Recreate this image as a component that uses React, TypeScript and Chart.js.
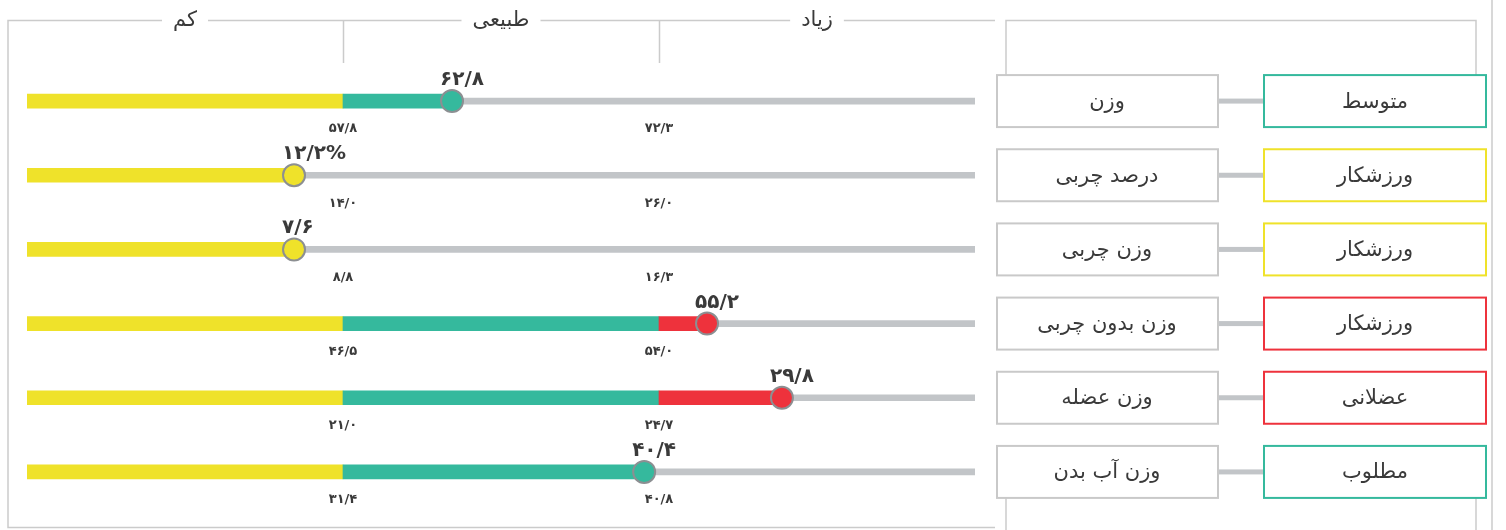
import React, { useEffect, useRef } from "react";
import { Chart, registerables } from "chart.js";

Chart.register(...registerables);

// ---------- data ----------
const rowLabels = ["وزن", "درصد چربی", "وزن چربی", "وزن بدون چربی", "وزن عضله", "وزن آب بدن"];
const statusLabels = ["متوسط", "ورزشکار", "ورزشکار", "ورزشکار", "عضلانی", "مطلوب"];
const valueLabels = ["۶۲/۸", "۱۲/۲%", "۷/۶", "۵۵/۲", "۲۹/۸", "۴۰/۴"];
const lowLabels = ["۵۷/۸", "۱۴/۰", "۸/۸", "۴۶/۵", "۲۱/۰", "۳۱/۴"];
const highLabels = ["۷۲/۳", "۲۶/۰", "۱۶/۳", "۵۴/۰", "۲۴/۷", "۴۰/۸"];
// marker position on a 0..3 zone scale (0-1 low, 1-2 normal, 2-3 high)
const markerPos = [1.345, 0.845, 0.845, 2.152, 2.389, 1.953];
const zoneLabels = ["کم", "طبیعی", "زیاد"];

const YELLOW = "#efe22a";
const TEAL = "#35b99d";
const RED = "#ee323c";
const GRAY = "#c2c5c8";
const LINE = "#cbcbcb";
const TEXT = "#3a3a3a";
const FONT = '"DejaVu Sans", "Noto Sans", sans-serif';

const zoneColor = (p: number) => (p < 1 ? YELLOW : p <= 2 ? TEAL : RED);

const decorPlugin = {
  id: "decor",
  beforeDatasetsDraw(chart: any) {
    const ctx = chart.ctx as CanvasRenderingContext2D;
    const xs = chart.scales.x;
    const ys = chart.scales.y;
    const H = chart.height;
    const L = xs.getPixelForValue(0);
    const R = xs.getPixelForValue(3);
    const x1 = xs.getPixelForValue(1);
    const x2 = xs.getPixelForValue(2);
    const topY = 20.5;
    const botY = H - 2.5;
    ctx.save();
    // left frame
    ctx.strokeStyle = LINE;
    ctx.lineWidth = 1.5;
    ctx.beginPath();
    ctx.moveTo(R + 20, topY);
    ctx.lineTo(L - 19, topY);
    ctx.lineTo(L - 19, botY);
    ctx.lineTo(R + 20, botY);
    ctx.stroke();
    // zone ticks
    ctx.beginPath();
    [x1, x2].forEach((x) => {
      ctx.moveTo(Math.round(x) + 0.5, topY);
      ctx.lineTo(Math.round(x) + 0.5, 63);
    });
    ctx.stroke();
    // zone header labels
    ctx.font = `21px ${FONT}`;
    ctx.textAlign = "center";
    ctx.textBaseline = "middle";
    const centers = [(L + x1) / 2, (x1 + x2) / 2, (x2 + R) / 2];
    zoneLabels.forEach((t, i) => {
      const w = ctx.measureText(t).width;
      ctx.fillStyle = "#ffffff";
      ctx.fillRect(centers[i] - w / 2 - 11, topY - 8, w + 22, 16);
      ctx.fillStyle = TEXT;
      ctx.fillText(t, centers[i], topY);
    });

    // right section
    const y0 = ys.getPixelForValue(0);
    const y5 = ys.getPixelForValue(rowLabels.length - 1);
    const bh = 52;
    ctx.strokeStyle = LINE;
    ctx.lineWidth = 1.5;
    ctx.beginPath();
    ctx.moveTo(R + 31, y0 - bh / 2);
    ctx.lineTo(R + 31, topY);
    ctx.lineTo(R + 501, topY);
    ctx.lineTo(R + 501, y0 - bh / 2);
    ctx.moveTo(R + 31, y5 + bh / 2);
    ctx.lineTo(R + 31, H);
    ctx.moveTo(R + 501, y5 + bh / 2);
    ctx.lineTo(R + 501, H);
    ctx.moveTo(R + 517, 0);
    ctx.lineTo(R + 517, H);
    ctx.stroke();

    rowLabels.forEach((lab, i) => {
      const y = ys.getPixelForValue(i);
      ctx.fillStyle = GRAY;
      ctx.fillRect(R + 243, y - 2.5, 46, 5);
      ctx.lineWidth = 2;
      ctx.strokeStyle = "#c9c9c9";
      ctx.fillStyle = "#ffffff";
      ctx.fillRect(R + 22, y - bh / 2, 221, bh);
      ctx.strokeRect(R + 22, y - bh / 2, 221, bh);
      ctx.strokeStyle = zoneColor(markerPos[i]);
      ctx.fillRect(R + 289, y - bh / 2, 222, bh);
      ctx.strokeRect(R + 289, y - bh / 2, 222, bh);
      ctx.fillStyle = TEXT;
      ctx.font = `21px ${FONT}`;
      ctx.textAlign = "center";
      ctx.textBaseline = "middle";
      ctx.fillText(lab, R + 22 + 110, y + 1);
      ctx.fillText(statusLabels[i], R + 289 + 111, y + 1);
    });
    ctx.restore();
  },
  afterDatasetsDraw(chart: any) {
    const ctx = chart.ctx as CanvasRenderingContext2D;
    const xs = chart.scales.x;
    const ys = chart.scales.y;
    const x1 = xs.getPixelForValue(1);
    const x2 = xs.getPixelForValue(2);
    ctx.save();
    ctx.fillStyle = TEXT;
    rowLabels.forEach((_, i) => {
      const y = ys.getPixelForValue(i);
      const px = xs.getPixelForValue(markerPos[i]);
      ctx.font = `600 20px ${FONT}`;
      ctx.textAlign = "left";
      ctx.textBaseline = "alphabetic";
      ctx.fillText(valueLabels[i], px - 12, y - 16);
      ctx.font = `bold 13px ${FONT}`;
      ctx.textAlign = "center";
      ctx.textBaseline = "middle";
      ctx.fillText(lowLabels[i], x1, y + 28);
      ctx.fillText(highLabels[i], x2, y + 28);
    });
    ctx.restore();
  },
};

export default function App() {
  const ref = useRef<HTMLCanvasElement | null>(null);

  useEffect(() => {
    document.body.style.margin = "0";
    if (!ref.current) return;
    const idx = rowLabels.map((_, i) => i);
    const chart = new Chart(ref.current, {
      type: "bar",
      data: {
        labels: rowLabels,
        datasets: [
          {
            type: "bar",
            label: "rest",
            data: idx.map((i) => [markerPos[i], 3]) as any,
            backgroundColor: GRAY,
            barThickness: 6,
            grouped: false,
            order: 5,
          } as any,
          {
            type: "bar",
            label: "low",
            data: idx.map((i) => [0, Math.min(markerPos[i], 1)]) as any,
            backgroundColor: YELLOW,
            barThickness: 14,
            grouped: false,
            order: 4,
          } as any,
          {
            type: "bar",
            label: "normal",
            data: idx.map((i) => (markerPos[i] > 1 ? [1, Math.min(markerPos[i], 2)] : null)) as any,
            backgroundColor: TEAL,
            barThickness: 14,
            grouped: false,
            order: 3,
          } as any,
          {
            type: "bar",
            label: "high",
            data: idx.map((i) => (markerPos[i] > 2 ? [2, markerPos[i]] : null)) as any,
            backgroundColor: RED,
            barThickness: 14,
            grouped: false,
            order: 2,
          } as any,
          {
            type: "scatter",
            label: "value",
            data: idx.map((i) => ({ x: markerPos[i], y: i })) as any,
            pointRadius: 11,
            pointHoverRadius: 11,
            pointBackgroundColor: markerPos.map(zoneColor),
            pointBorderColor: "#8c8f92",
            pointBorderWidth: 2,
            order: 1,
          } as any,
        ],
      },
      options: {
        indexAxis: "y",
        animation: false,
        responsive: true,
        maintainAspectRatio: false,
        layout: { padding: { left: 27, right: 531, top: 64, bottom: 21 } },
        plugins: { legend: { display: false }, tooltip: { enabled: false } },
        scales: {
          x: { type: "linear", min: 0, max: 3, display: false },
          y: { type: "category", display: false, offset: true },
        },
      },
      plugins: [decorPlugin as any],
    });
    return () => chart.destroy();
  }, []);

  return (
    <div style={{ width: 1506, height: 530, position: "relative", background: "#fff" }}>
      <canvas ref={ref} />
    </div>
  );
}
